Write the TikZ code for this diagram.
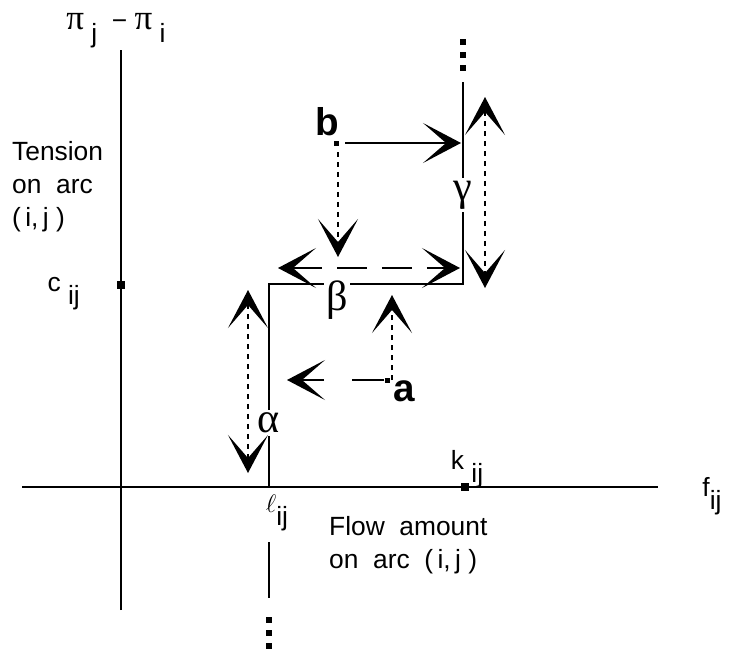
\documentclass[tikz,border=0pt]{standalone}
\usepackage{fontspec}
\setmainfont{Liberation Sans}
\newfontfamily\grk{Liberation Serif}
\usetikzlibrary{positioning, arrows.meta}
\tikzset{
  curve/.style={line width=1.1pt},
  chev/.style={-{Stealth[length=0.76cm, width=0.8cm, inset=0.46cm]}},
  chevboth/.style={{Stealth[length=0.76cm, width=0.8cm, inset=0.46cm]}-{Stealth[length=0.76cm, width=0.8cm, inset=0.46cm]}},
  dotline/.style={line width=1.1pt, dash pattern=on 0.1cm off 0.1cm},
  longdash/.style={line width=1.1pt, dash pattern=on 0.6cm off 0.3cm},
  sqmark/.style={fill, inner sep=0pt, minimum size=0.16cm},
  dotsq/.style={fill, inner sep=0pt, minimum size=0.13cm},
  greek/.style={font=\fontsize{24}{28}\selectfont\grk, fill=white, inner sep=1.5pt},
  ptlbl/.style={font=\fontsize{22}{26}\selectfont\bfseries, inner sep=0pt},
}
\newcommand{\lowsub}[1]{\raisebox{-0.5em}{#1}}

\begin{document}
\begin{tikzpicture}[x=0.02cm, y=-0.02cm, font=\fontsize{15}{18.7}\selectfont]
  \useasboundingbox (0,0) rectangle (729,652);
  % axes
  \coordinate (yb) at (121,610); \coordinate (yt) at (121,50);
  \coordinate (xl) at (22,487);  \coordinate (xr) at (658,487);
  \draw[curve] (yb) -- (yt);
  \draw[curve] (xl) -- (xr);
  \node[sqmark] (cm) at (121,285) {};
  \node[sqmark] (km) at (465,487) {};
  \node (ylbl) at (116,31) {{\fontsize{20}{22}\selectfont\grk π}\ \lowsub{j}\ \ −\ {\fontsize{20}{22}\selectfont\grk π}\ \lowsub{i}};
  \node[align=left, anchor=west] (tens) at (6,187) {Tension\\on\ \ arc\\(\,i,\,j\ )};
  \node[anchor=east] (clbl) at (86,294) {c \lowsub{ij}};
  \node (klbl) at (467,469) {k \lowsub{ij}};
  \node (flbl) at (712,496) {f\lowsub{ij}};
  \node (llbl) at (277,513) {$\ell$\lowsub{ij}};
  \node[align=left, anchor=west] (flow) at (323,545) {Flow\ \ amount\\on\ \ arc\ \ (\,i,\,j\ )};
  % characteristic curve
  \coordinate (p0) at (269,487); \coordinate (p1) at (269,284);
  \coordinate (p2) at (463,284); \coordinate (p3) at (463,82);
  \draw[curve] (p0) -- (p1) -- (p2) -- (p3);
  \coordinate (q0) at (269,542); \coordinate (q1) at (269,598);
  \draw[curve] (q0) -- (q1);
  \foreach \y in {620,633,646} { \node[dotsq] at (269,\y) {}; }
  \foreach \y in {42,55,68} { \node[dotsq] at (463,\y) {}; }
  \node[greek] (al) at (269,423) {α};
  \node[greek] (be) at (337,300) {β};
  \node[greek] (ga) at (463,195) {γ};
  % point b
  \node[fill, inner sep=0pt, minimum size=0.1cm] (b) at (336,143) {};
  \node[ptlbl] (blbl) at (327,122) {b};
  \coordinate (bR) at (461,143); \coordinate (bS) at (345,143);
  \draw[curve, chev] (bS) -- (bR);
  \coordinate (bD0) at (338,152); \coordinate (bD1) at (338,257);
  \draw[dotline, chev] (bD0) -- (bD1);
  \coordinate (m0) at (278,268); \coordinate (m1) at (460,268);
  \draw[longdash, chevboth] (m0) -- (m1);
  \coordinate (g0) at (485,97); \coordinate (g1) at (485,288);
  \draw[dotline, chevboth] (g0) -- (g1);
  \coordinate (h0) at (248,290); \coordinate (h1) at (248,473);
  \draw[dotline, chevboth] (h0) -- (h1);
  % point a
  \node[fill, inner sep=0pt, minimum size=0.1cm] (a) at (387,380) {};
  \node[ptlbl] (albl) at (404,391) {a};
  \coordinate (aU) at (392,295); \coordinate (aL) at (287,380);
  \draw[dotline, chev] (392,380) -- (aU);
  \draw[curve, dash pattern=on 0.64cm off 0.56cm, chev] (a) -- (aL);
\end{tikzpicture}
\end{document}
